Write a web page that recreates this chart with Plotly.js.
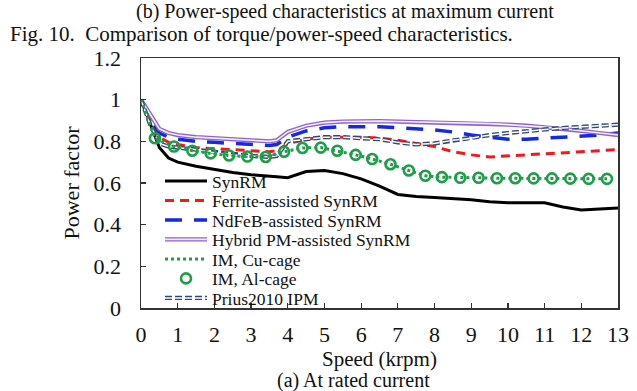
<!DOCTYPE html>
<html><head><meta charset="utf-8">
<script src="https://cdn.plot.ly/plotly-3.0.1.min.js"></script>
<style>html,body{margin:0;padding:0;background:#fff;}#chart{width:637px;height:391px;}</style>
</head><body><div id="chart"></div>
<script>
// Speed (krpm) sample points shared by the line series
const speed = [0, 0.25, 0.5, 0.75, 1, 1.5, 2, 2.5, 3, 3.5, 3.7, 4, 4.5, 5, 5.5, 6, 6.5, 7, 7.5, 8, 8.5, 9, 9.5, 10, 10.5, 11, 11.5, 12, 12.5, 13];
const pfSynRM   = [1.0, 0.88, 0.77, 0.72, 0.70, 0.68, 0.665, 0.65, 0.64, 0.635, 0.63, 0.625, 0.655, 0.66, 0.645, 0.62, 0.585, 0.545, 0.535, 0.53, 0.525, 0.52, 0.51, 0.505, 0.505, 0.505, 0.485, 0.47, 0.475, 0.48];
const pfFerrite = [1.0, 0.90, 0.82, 0.795, 0.785, 0.77, 0.765, 0.76, 0.755, 0.75, 0.755, 0.79, 0.81, 0.82, 0.82, 0.82, 0.815, 0.805, 0.79, 0.775, 0.75, 0.735, 0.725, 0.73, 0.735, 0.74, 0.745, 0.75, 0.755, 0.76];
const pfNdFeB   = [1.0, 0.91, 0.84, 0.82, 0.81, 0.80, 0.795, 0.79, 0.785, 0.78, 0.785, 0.82, 0.85, 0.865, 0.87, 0.87, 0.87, 0.865, 0.86, 0.855, 0.845, 0.83, 0.82, 0.81, 0.81, 0.815, 0.82, 0.825, 0.83, 0.84];
const pfHybrid  = [1.0, 0.93, 0.86, 0.84, 0.83, 0.82, 0.815, 0.81, 0.805, 0.80, 0.805, 0.845, 0.875, 0.89, 0.895, 0.897, 0.897, 0.895, 0.893, 0.89, 0.89, 0.888, 0.885, 0.88, 0.875, 0.868, 0.86, 0.85, 0.84, 0.83];
const pfPrius   = [1.0, 0.88, 0.79, 0.775, 0.77, 0.76, 0.745, 0.735, 0.73, 0.725, 0.73, 0.80, 0.81, 0.82, 0.82, 0.815, 0.81, 0.795, 0.785, 0.79, 0.805, 0.815, 0.83, 0.84, 0.85, 0.857, 0.864, 0.87, 0.875, 0.88];
// Induction machines
const imSpeed = [0, 0.38, 0.9, 1.4, 1.9, 2.4, 2.9, 3.4, 3.9, 4.4, 4.9, 5.35, 5.85, 6.3, 6.8, 7.3, 7.75, 8.2, 8.7, 9.2, 9.7, 10.2, 10.7, 11.2, 11.7, 12.2, 12.7];
const pfImCu  = [1.0, 0.815, 0.775, 0.755, 0.742, 0.732, 0.727, 0.725, 0.75, 0.768, 0.77, 0.755, 0.735, 0.715, 0.69, 0.66, 0.635, 0.628, 0.625, 0.625, 0.623, 0.623, 0.622, 0.622, 0.621, 0.62, 0.62];
const imAlSpeed = [0.38, 0.9, 1.4, 1.9, 2.4, 2.9, 3.4, 3.9, 4.4, 4.9, 5.35, 5.85, 6.3, 6.8, 7.3, 7.75, 8.2, 8.7, 9.2, 9.7, 10.2, 10.7, 11.2, 11.7, 12.2, 12.7];
const pfImAl  = [0.815, 0.775, 0.755, 0.742, 0.732, 0.727, 0.725, 0.75, 0.768, 0.77, 0.755, 0.735, 0.715, 0.69, 0.66, 0.635, 0.628, 0.625, 0.625, 0.623, 0.623, 0.622, 0.622, 0.621, 0.62, 0.62];
const names = ['SynRM', 'Ferrite-assisted SynRM', 'NdFeB-assisted SynRM', 'Hybrid PM-assisted SynRM', 'IM, Cu-cage', 'IM, Al-cage', 'Prius2010 IPM'];
const xTicks = [0,1,2,3,4,5,6,7,8,9,10,11,12,13];
const yTicks = [0, 0.2, 0.4, 0.6, 0.8, 1, 1.2];

const FONT = 'Liberation Serif, Times New Roman, serif';
const GREEN = '#1f9e48', PURPLE = '#8f64c8', NAVY = '#2f4676';

const traces = [
  {x: speed, y: pfSynRM, name: names[0], mode: 'lines', line: {color: '#000', width: 3}, legend: 'legend'},
  {x: speed, y: pfFerrite, name: names[1], mode: 'lines', line: {color: '#f01a1a', width: 3, dash: '9px,6px'}, legend: 'legend2'},
  {x: speed, y: pfNdFeB, name: names[2], mode: 'lines', line: {color: '#1428e6', width: 3.5, dash: '17px,12px'}, legend: 'legend3'},
  {x: speed, y: pfHybrid, name: names[3], mode: 'lines', line: {color: PURPLE, width: 4.2}, legend: 'legend4'},
  {x: speed, y: pfHybrid, name: ' ', mode: 'lines', line: {color: '#f3ecfb', width: 1.6}, legend: 'legend5', hoverinfo: 'skip'},
  {x: speed, y: pfPrius, name: names[6], mode: 'lines', line: {color: NAVY, width: 4.2, dash: '7px,3px'}, legend: 'legend8'},
  {x: speed, y: pfPrius, name: ' ', mode: 'lines', line: {color: '#ffffff', width: 1.5, dash: '7px,3px'}, legend: 'legend9', hoverinfo: 'skip'},
  {x: imSpeed, y: pfImCu, name: names[4], mode: 'lines', line: {color: GREEN, width: 3, dash: 'dot'}, legend: 'legend6'},
  {x: imAlSpeed, y: pfImAl, name: names[5], mode: 'markers', marker: {symbol: 'circle-open', size: 10, color: GREEN, line: {width: 2.6, color: GREEN}}, legend: 'legend7'}
];

const rowY = {legend: 181, legend2: 200.5, legend3: 220, legend4: 239.5, legend5: 239.5, legend6: 259, legend7: 278.5, legend8: 298, legend9: 298};
const plotTop = 58, plotH = 250, plotL = 141, plotW = 477;
const layout = {
  width: 637, height: 391,
  margin: {l: plotL, r: 637 - plotL - plotW, t: plotTop, b: 391 - plotTop - plotH},
  paper_bgcolor: '#fff', plot_bgcolor: '#fff',
  font: {family: FONT, color: '#111', size: 21},
  xaxis: {range: [0, 13], tickvals: xTicks, ticks: 'inside', ticklen: 5, tickwidth: 1.2, tickcolor: '#333',
          showline: true, linecolor: '#333', linewidth: 1.5, mirror: true, showgrid: false, zeroline: false,
          tickfont: {size: 22}, ticklabelstandoff: 6,
          title: {text: 'Speed (krpm)', font: {size: 21}, standoff: 1}},
  yaxis: {range: [0, 1.2], tickvals: yTicks, ticks: 'inside', ticklen: 5, tickwidth: 1.2, tickcolor: '#333',
          showline: true, linecolor: '#333', linewidth: 1.5, mirror: true, showgrid: false, zeroline: false,
          tickfont: {size: 22}, ticklabelstandoff: 14,
          title: {text: 'Power factor', font: {size: 22}, standoff: 8}},
  annotations: [
    {text: '(b) Power-speed characteristics at maximum current', xref: 'paper', yref: 'paper',
     x: (345 - plotL) / plotW, y: (plotTop + plotH - 11) / plotH, xanchor: 'center', yanchor: 'middle', showarrow: false, font: {size: 20}},
    {text: 'Fig. 10.  Comparison of torque/power-speed characteristics.', xref: 'paper', yref: 'paper',
     x: (8 - plotL) / plotW, y: (plotTop + plotH - 34) / plotH, xanchor: 'left', yanchor: 'middle', showarrow: false, font: {size: 21}},
    {text: '(a) At rated current', xref: 'paper', yref: 'paper',
     x: (353 - plotL) / plotW, y: (plotTop + plotH - 380.5) / plotH, xanchor: 'center', yanchor: 'middle', showarrow: false, font: {size: 20}}
  ],
  showlegend: true
};
Object.keys(rowY).forEach(function (k) {
  const overlay = (k === 'legend5' || k === 'legend9');
  layout[k] = {x: (160 - plotL) / plotW, y: (plotTop + plotH - rowY[k]) / plotH, xanchor: 'left', yanchor: 'middle',
    bgcolor: 'rgba(0,0,0,0)', borderwidth: 0, itemwidth: 42, tracegroupgap: 0,
    font: {family: FONT, size: 17.5, color: overlay ? 'rgba(0,0,0,0)' : '#111'}};
});
Plotly.newPlot('chart', traces, layout, {displayModeBar: false, staticPlot: true});
</script></body></html>
